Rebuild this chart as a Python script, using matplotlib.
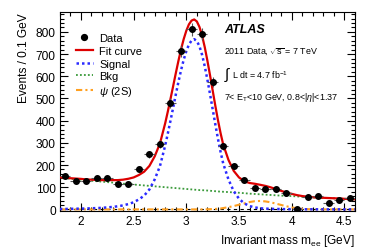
import numpy as np
import matplotlib
matplotlib.use("Agg")
import matplotlib.pyplot as plt
from matplotlib.lines import Line2D
from matplotlib.ticker import MultipleLocator

plt.rcParams['font.family'] = ['Liberation Sans', 'DejaVu Sans']
plt.rcParams['mathtext.fontset'] = 'custom'
plt.rcParams['mathtext.rm'] = 'Liberation Sans'
plt.rcParams['mathtext.it'] = 'Liberation Sans:italic'
plt.rcParams['mathtext.bf'] = 'Liberation Sans:bold'

# ---- data points (bin centres, counts per 0.1 GeV) ----
data_x = [1.85, 1.95, 2.05, 2.15, 2.25, 2.35, 2.45, 2.55, 2.65, 2.75,
          2.85, 2.95, 3.05, 3.15, 3.25, 3.35, 3.45, 3.55, 3.65, 3.75,
          3.85, 3.95, 4.05, 4.15, 4.25, 4.35, 4.45, 4.55]
data_y = [152, 127, 130, 143, 141, 116, 114, 180, 248, 295,
          481, 712, 812, 790, 574, 284, 194, 131, 96, 91,
          90, 73, 3, 57, 59, 31, 41, 51]

# ---- fitted curve components ----
curve_x = [1.80, 1.85, 1.90, 1.95, 2.00, 2.05, 2.10, 2.15, 2.20, 2.25,
           2.30, 2.35, 2.40, 2.45, 2.50, 2.55, 2.60, 2.65, 2.70, 2.75,
           2.800, 2.825, 2.850, 2.875, 2.900, 2.925, 2.950, 2.975, 3.000, 3.025,
           3.050, 3.075, 3.100, 3.125, 3.150, 3.175, 3.200, 3.225, 3.250, 3.275,
           3.300, 3.325, 3.350,
           3.40, 3.45, 3.50, 3.55, 3.60, 3.65, 3.70, 3.75, 3.80, 3.85,
           3.90, 3.95, 4.00, 4.05, 4.10, 4.15, 4.20, 4.25, 4.30, 4.35,
           4.40, 4.45, 4.50, 4.55, 4.60]
signal_y = [1.8, 2, 2.5, 3, 3.5, 4, 5, 6, 7, 9,
            11, 14, 18, 24, 32, 45, 62, 90, 135, 195,
            289, 343, 400, 458, 517, 574, 627, 674, 713, 743,
            761, 767, 759, 735, 696, 645, 585, 520, 452, 384,
            319, 260, 207,
            135, 82, 48, 27, 15, 9, 5, 3.5, 2.5, 2,
            1.5, 1.2, 1, 0.8, 0.6, 0.5, 0.4, 0.3, 0.3, 0.2,
            0.2, 0.2, 0.1, 0.1, 0.1]
bkg_y = [143, 141, 138, 136, 134, 131, 129, 127, 125, 123,
         121, 118, 116, 114, 112, 110, 108, 106, 104, 102,
         100, 99, 98, 97, 96, 95, 94, 93, 92, 91,
         90, 89, 88, 87, 86.5, 86, 85, 84, 83, 82,
         81, 80, 79.5,
         78, 76.5, 75, 73, 71, 69.5, 68, 66.5, 65, 63.5,
         62, 61, 60, 58.5, 57, 55.5, 54, 53, 52, 51,
         50, 49, 47.5, 46.5, 45.5]
psi2s_y = [0, 0, 0, 0, 0, 0, 0, 0, 0, 0,
           0, 0, 0, 0, 0, 0, 0, 0, 0, 0,
           0, 0, 0, 0, 0, 0, 0, 0, 0, 0,
           0, 0, 0, 0, 0, 0.2, 0.5, 1, 1.5, 2,
           3, 4, 6,
           10, 15, 21, 27, 33, 37, 38, 36, 32, 26,
           20, 14, 9, 5, 2.5, 1.2, 0.5, 0.2, 0, 0,
           0, 0, 0, 0, 0]

cx = np.array(curve_x)
sig = np.array(signal_y)
bkg = np.array(bkg_y)
psi = np.array(psi2s_y)
fit = sig + bkg + psi

fig = plt.figure(figsize=(3.74, 2.53), dpi=100)
ax = fig.add_axes([0.160, 0.164, 0.789, 0.785])

ax.axhline(0, color='black', lw=0.8, ls=(0, (3, 3)), zorder=1)
ax.plot(cx, bkg, color='#3a9a3a', lw=1.3, ls=(0, (1, 1.2)), zorder=2)
ax.plot(cx, psi, color='#ffa020', lw=1.5, ls=(0, (3, 1.5, 1, 1.5)), zorder=2)
ax.plot(cx, sig, color='#2a2aff', lw=1.8, ls=(0, (1, 1.2)), zorder=3)
ax.plot(cx, fit, color='#dd0000', lw=1.6, zorder=4)

dx = np.array(data_x)
dy = np.array(data_y)
ax.errorbar(dx, dy, xerr=0.05, yerr=np.sqrt(dy), fmt='o', color='black',
            ms=4, elinewidth=0.8, ecolor='#555555', capsize=0, zorder=5)

ax.set_xlim(1.8, 4.6)
ax.set_ylim(-5, 890)
ax.xaxis.set_major_locator(MultipleLocator(0.5))
ax.xaxis.set_minor_locator(MultipleLocator(0.1))
ax.yaxis.set_major_locator(MultipleLocator(100))
ax.yaxis.set_minor_locator(MultipleLocator(20))
ax.tick_params(which='both', direction='in', top=True, right=True,
               labelsize=8.6, width=0.8, pad=3)
ax.tick_params(which='major', length=6)
ax.tick_params(which='minor', length=3)
for s in ax.spines.values():
    s.set_linewidth(0.8)
ax.xaxis.set_major_formatter(matplotlib.ticker.FuncFormatter(
    lambda v, p: ('%g' % v)))

ax.set_ylabel('Events / 0.1 GeV', fontsize=8.6, loc='top')
ax.set_xlabel(r'Invariant mass m$_{\mathrm{ee}}$ [GeV]', fontsize=8.6, loc='right')

handles = [
    Line2D([], [], marker='o', color='black', ls='none', ms=4.2),
    Line2D([], [], color='#dd0000', lw=1.6),
    Line2D([], [], color='#2a2aff', lw=1.8, ls=(0, (1, 1.2))),
    Line2D([], [], color='#3a9a3a', lw=1.3, ls=(0, (1, 1.2))),
    Line2D([], [], color='#ffa020', lw=1.5, ls=(0, (3, 1.5, 1, 1.5))),
]
labels = ['Data', 'Fit curve', 'Signal', 'Bkg', r'$\psi$ (2S)']
ax.legend(handles, labels, loc='upper left', bbox_to_anchor=(0.04, 0.915),
          frameon=False, fontsize=8, handlelength=1.5, handletextpad=0.6,
          labelspacing=0.24, borderaxespad=0)

ax.text(0.558, 0.915, 'ATLAS', transform=ax.transAxes, fontsize=9,
        fontweight='bold', fontstyle='italic', va='center')
ax.text(0.558, 0.805, r'2011 Data, $\sqrt{\mathrm{s}}$ = 7 TeV', transform=ax.transAxes,
        fontsize=6.4, va='center')
ax.text(0.555, 0.69, r'$\int$', transform=ax.transAxes,
        fontsize=11, va='center')
ax.text(0.583, 0.685, r'L dt = 4.7 fb$^{\mathrm{-1}}$', transform=ax.transAxes,
        fontsize=6.4, va='center')
ax.text(0.558, 0.575, r'7< E$_{\mathrm{T}}$<10 GeV, 0.8<|$\eta$|<1.37',
        transform=ax.transAxes, fontsize=6.4, va='center')

fig.savefig('out.png', dpi=100)
